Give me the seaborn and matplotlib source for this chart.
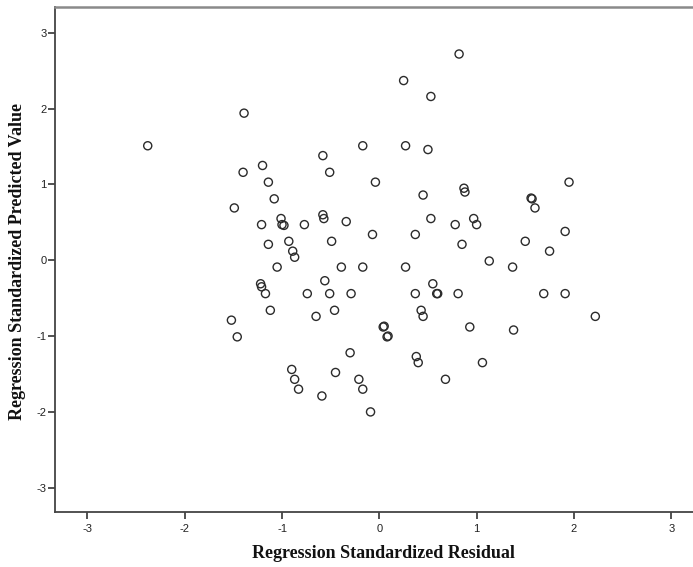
import matplotlib
matplotlib.use("Agg")
import matplotlib.pyplot as plt
import seaborn as sns
import pandas as pd

# Regression standardized residual (x) and standardized predicted value (y)
residual = [
    -2.38, -1.39, -0.17, -0.58, -1.20, -1.40, -0.51, -1.14, -0.04, -1.08,
    -1.49, -1.01, -1.00, -0.98, -1.21, -0.77, -0.58, -0.57, -0.34, -0.07,
    -0.93, -1.14, -0.49, -0.89, -0.87, -1.05, -0.39, -0.17,
    0.82, 0.25, 0.53, 0.27, 0.50, 1.95, 0.45, 0.87, 0.88, 1.56, 1.57,
    1.60, 0.53, 0.78, 0.97, 1.00, 0.37, 1.91, 0.85, 1.50, 1.75, 1.13,
    0.27, 1.37,
    -1.22, -1.21, -1.17, -0.74, -0.51, -0.29, -0.56, -1.12, -0.65, -0.46,
    -1.52, -1.46, -0.30, -0.90, -0.87, -0.83, -0.45, -0.21, -0.17, -0.59,
    -0.09,
    0.55, 0.37, 0.59, 0.60, 0.81, 1.69, 1.91, 0.43, 0.45, 2.22, 0.93,
    1.38, 0.04, 0.05, 0.08, 0.09, 0.38, 0.40, 1.06, 0.68,
]
predicted = [
    1.51, 1.94, 1.51, 1.38, 1.25, 1.16, 1.16, 1.03, 1.03, 0.81,
    0.69, 0.55, 0.47, 0.46, 0.47, 0.47, 0.60, 0.55, 0.51, 0.34,
    0.25, 0.21, 0.25, 0.12, 0.04, -0.09, -0.09, -0.09,
    2.72, 2.37, 2.16, 1.51, 1.46, 1.03, 0.86, 0.95, 0.90, 0.82, 0.81,
    0.69, 0.55, 0.47, 0.55, 0.47, 0.34, 0.38, 0.21, 0.25, 0.12, -0.01,
    -0.09, -0.09,
    -0.31, -0.35, -0.44, -0.44, -0.44, -0.44, -0.27, -0.66, -0.74, -0.66,
    -0.79, -1.01, -1.22, -1.44, -1.57, -1.70, -1.48, -1.57, -1.70, -1.79,
    -2.00,
    -0.31, -0.44, -0.44, -0.44, -0.44, -0.44, -0.44, -0.66, -0.74, -0.74, -0.88,
    -0.92, -0.88, -0.87, -1.01, -1.00, -1.27, -1.35, -1.35, -1.57,
]
x_ticks = [-3, -2, -1, 0, 1, 2, 3]
y_ticks = [-3, -2, -1, 0, 1, 2, 3]

df = pd.DataFrame({"Residual": residual, "Predicted": predicted})

sns.set_theme(style="white")
fig = plt.figure(figsize=(6.93, 5.67), dpi=100)
ax = fig.add_axes([55 / 693, 55 / 567, 1 - 55 / 693, 505 / 567])

sns.scatterplot(data=df, x="Residual", y="Predicted", ax=ax,
                facecolor="none", edgecolor="#2b2b2b", linewidth=1.0,
                s=34, marker="o")

ax.set_xlim(-3.333, 3.224)
ax.set_ylim(-3.32, 3.34)
ax.set_xticks(x_ticks)
ax.set_yticks(y_ticks)
ax.set_xticklabels([str(t) for t in x_ticks], fontfamily="Liberation Sans", fontsize=8)
ax.set_yticklabels([str(t) for t in y_ticks], fontfamily="Liberation Sans", fontsize=8)
ax.tick_params(axis="both", direction="out", length=5, width=1.2, color="#333333",
               left=True, bottom=True, labelcolor="#222222")
ax.tick_params(axis="x", pad=4)
ax.tick_params(axis="y", pad=1)

for side in ["left", "bottom"]:
    ax.spines[side].set_color("#444444")
    ax.spines[side].set_linewidth(1.3)
ax.spines["top"].set_color("#8a8a8a")
ax.spines["top"].set_linewidth(1.8)
ax.spines["right"].set_visible(False)

ax.set_xlabel("Regression Standardized Residual", fontfamily="Liberation Serif",
              fontweight="bold", fontsize=13, color="#111111")
ax.set_ylabel("Regression Standardized Predicted Value", fontfamily="Liberation Serif",
              fontweight="bold", fontsize=13, color="#111111")
ax.xaxis.label.set_va("center")
ax.yaxis.label.set_va("center")
ax.yaxis.label.set_ha("center")
ax.xaxis.set_label_coords((383.5 - 55) / 638, (512 - 553) / 505)
ax.yaxis.set_label_coords((18 - 55) / 638, (512 - 261) / 505)

fig.savefig("out.png", dpi=100)
